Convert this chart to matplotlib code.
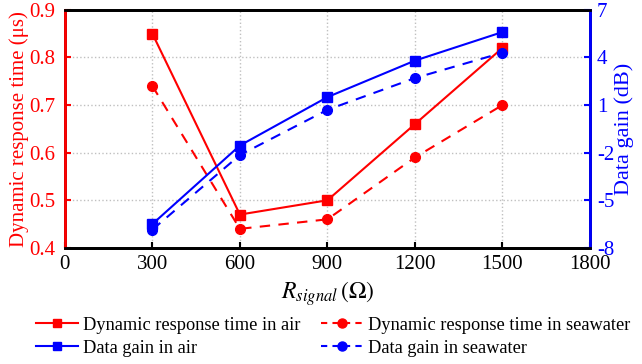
import matplotlib.pyplot as plt
from matplotlib.lines import Line2D

plt.rcParams['font.family'] = ['Liberation Serif', 'DejaVu Serif']
plt.rcParams['mathtext.fontset'] = 'stix'
plt.rcParams['axes.unicode_minus'] = False

# R_signal (Ohm)
r_signal = [300, 600, 900, 1200, 1500]
# dynamic response time (us)
resp_air = [0.85, 0.47, 0.50, 0.66, 0.82]
resp_sea = [0.74, 0.44, 0.46, 0.59, 0.70]
# data gain (dB)
gain_air = [-6.5, -1.55, 1.5, 3.8, 5.6]
gain_sea = [-6.85, -2.15, 0.7, 2.7, 4.3]

red = '#ff0000'
blue = '#0000ff'

fig = plt.figure(figsize=(6.42, 3.64), dpi=100)
ax = fig.add_axes([0.101, 0.319, 0.818, 0.654])
ax2 = ax.twinx()

ax.plot(r_signal, resp_air, '-', color=red, marker='s', ms=6.5, lw=1.5, zorder=3)
ax.plot(r_signal, resp_sea, '--', color=red, marker='o', ms=7, lw=1.5, dashes=(5, 4), zorder=3)
ax2.plot(r_signal, gain_air, '-', color=blue, marker='s', ms=6.5, lw=1.5)
ax2.plot(r_signal, gain_sea, '--', color=blue, marker='o', ms=7, lw=1.5, dashes=(5, 4))

ax.set_xlim(0, 1800)
ax.set_xticks(range(0, 1801, 300))
ax.set_ylim(0.4, 0.9)
ax.set_yticks([0.4, 0.5, 0.6, 0.7, 0.8, 0.9])
ax2.set_ylim(-8, 7)
ax2.set_yticks([-8, -5, -2, 1, 4, 7])

ax.grid(True, color='#c0c0c0', linestyle=':', linewidth=1)
ax.set_axisbelow(True)

ax.tick_params(axis='x', direction='in', labelsize=15, length=4, width=1.5, pad=5)
ax.tick_params(axis='y', direction='in', labelsize=15, colors=red, length=4, width=1.5, pad=7)
ax2.tick_params(axis='y', direction='in', labelsize=15, colors=blue, length=4, width=1.5, pad=5)

for a in (ax, ax2):
    for sp in a.spines.values():
        sp.set_linewidth(2)
ax2.spines['left'].set_color(red)
ax2.spines['right'].set_color(blue)
ax2.spines['top'].set_color('black')
ax2.spines['bottom'].set_color('black')

ax.set_ylabel('Dynamic response time (\u03bcs)', color=red, fontsize=15, labelpad=0)
ax2.set_ylabel('Data gain (dB)', color=blue, fontsize=16, labelpad=0)
ax.set_xlabel(r'$R_{signal}\,\left(\Omega\right)$', fontsize=17, labelpad=4)

handles = [
    Line2D([], [], color=red, ls='-', marker='s', ms=6, lw=1.5),
    Line2D([], [], color=blue, ls='-', marker='s', ms=6, lw=1.5),
    Line2D([], [], color=red, ls='--', marker='o', ms=6.5, lw=1.5, dashes=(3, 2.5)),
    Line2D([], [], color=blue, ls='--', marker='o', ms=6.5, lw=1.5, dashes=(3, 2.5)),
]
labels = ['Dynamic response time in air', 'Data gain in air',
          'Dynamic response time in seawater', 'Data gain in seawater']
fig.legend(handles, labels, ncol=2, loc='upper left', bbox_to_anchor=(36 / 642, 0.13),
           frameon=False, fontsize=13.2, handlelength=2.3, handletextpad=0.27,
           columnspacing=1.1, labelspacing=0.32, borderpad=0, borderaxespad=0)

fig.savefig('out.png', dpi=100)
